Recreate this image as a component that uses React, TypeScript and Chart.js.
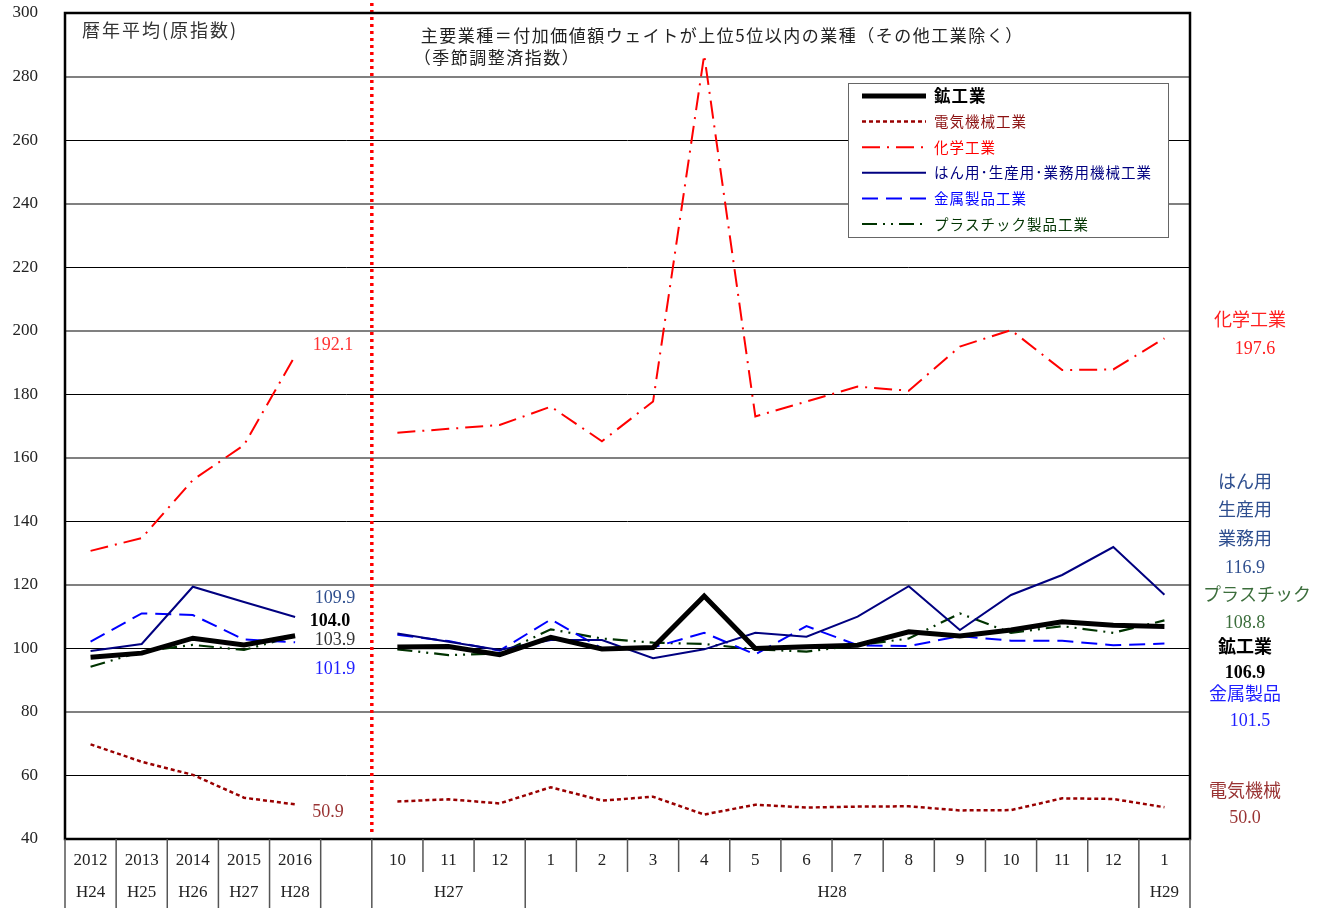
import React, { useEffect, useRef } from 'react';
import { Chart, registerables } from 'chart.js';
Chart.register(...registerables);

// ---- data ----
const categories = ['2012', '2013', '2014', '2015', '2016', '', '10', '11', '12', '1', '2', '3', '4', '5', '6', '7', '8', '9', '10', '11', '12', '1'];
const annualEras = ['H24', 'H25', 'H26', 'H27', 'H28'];
const monthlyEraLabels = ['H27', 'H28', 'H29'];
const monthlyEraSpans = [3, 12, 1];
const yTicksMin = 40;
const yTicksMax = 300;
const yTickStep = 20;

const miningAnnual = [97.2, 98.5, 103.2, 101.1, 104.0];
const miningMonthly = [100.4, 100.6, 98.0, 103.5, 99.8, 100.3, 116.5, 100.0, 100.5, 101.0, 105.2, 103.9, 105.8, 108.4, 107.3, 106.9];
const electricAnnual = [69.8, 64.3, 60.2, 53.0, 50.9];
const electricMonthly = [51.8, 52.5, 51.2, 56.3, 52.1, 53.3, 47.7, 50.8, 49.9, 50.2, 50.3, 49.0, 49.1, 52.8, 52.6, 50.0];
const chemicalAnnual = [130.7, 134.7, 153.0, 164.0, 192.1];
const chemicalMonthly = [167.9, 169.1, 170.3, 176.1, 165.2, 177.7, 286.8, 173.0, 177.7, 182.4, 181.1, 195.0, 200.2, 187.6, 187.8, 197.6];
const machineryAnnual = [99.2, 101.4, 119.4, 114.6, 109.9];
const machineryMonthly = [104.7, 102.1, 99.5, 102.6, 102.6, 96.9, 99.7, 104.9, 103.7, 110.0, 119.6, 105.8, 116.8, 123.1, 131.9, 116.9];
const metalAnnual = [102.1, 111.0, 110.5, 102.8, 101.9];
const metalMonthly = [104.3, 102.3, 99.3, 109.1, 100.0, 100.3, 104.9, 98.1, 107.0, 101.0, 100.7, 103.9, 102.4, 102.4, 101.0, 101.5];
const plasticAnnual = [94.2, 99.0, 101.1, 99.5, 103.9];
const plasticMonthly = [99.7, 97.9, 98.4, 106.0, 103.1, 101.8, 101.4, 99.7, 99.0, 101.0, 103.1, 111.0, 104.9, 107.0, 104.9, 108.8];

const seriesNames = ['鉱工業', '電気機械工業', '化学工業', 'はん用･生産用･業務用機械工業', '金属製品工業', 'プラスチック製品工業'];

const SERIF = '"Liberation Serif", "DejaVu Serif", "Noto Sans CJK JP", serif';
const JP = '"Noto Sans CJK JP", "Noto Sans", sans-serif';

const join = (a: number[], m: number[]) => [...a, null, ...m];

const styles = [
  { color: '#000000', width: 5, dash: [] as number[] },
  { color: '#990000', width: 2.5, dash: [4, 3] },
  { color: '#ff0000', width: 2, dash: [18, 7, 2, 7] },
  { color: '#000080', width: 2, dash: [] as number[] },
  { color: '#0000ff', width: 2, dash: [16, 8] },
  { color: '#003300', width: 2.2, dash: [15, 6, 2, 6, 2, 6] },
];
const legendTextColors = ['#000000', '#8b1010', '#ff0000', '#000080', '#0000ff', '#003300'];

export default function App() {
  const ref = useRef<HTMLCanvasElement>(null);
  useEffect(() => {
    document.body.style.margin = '0';
    const canvas = ref.current!;
    const data = [
      join(miningAnnual, miningMonthly),
      join(electricAnnual, electricMonthly),
      join(chemicalAnnual, chemicalMonthly),
      join(machineryAnnual, machineryMonthly),
      join(metalAnnual, metalMonthly),
      join(plasticAnnual, plasticMonthly),
    ];

    const overlay = {
      id: 'overlay',
      afterDraw(chart: any) {
        const ctx = chart.ctx as any;
        const xs = chart.scales.x;
        const ys = chart.scales.y;
        const { left, right, top, bottom } = chart.chartArea;
        const px = (i: number) => xs.getPixelForValue(i);
        const half = (px(1) - px(0)) / 2;
        const edge = (i: number) => px(0) - half + i * half * 2;
        const yv = (v: number) => ys.getPixelForValue(v);
        ctx.save();

        // red dotted divider
        ctx.strokeStyle = '#ff0000';
        ctx.lineWidth = 3.5;
        ctx.setLineDash([3, 4]);
        ctx.beginPath();
        ctx.moveTo(edge(6), 3);
        ctx.lineTo(edge(6), bottom - 3);
        ctx.stroke();
        ctx.setLineDash([]);

        // frame
        ctx.strokeStyle = '#000';
        ctx.lineWidth = 2.5;
        ctx.strokeRect(left, top, right - left, bottom - top);

        // x-axis table
        const row1 = bottom + 33;
        const H = chart.height;
        const full = [0, 1, 2, 3, 4, 5, 6, 9, 21, 22];
        ctx.strokeStyle = '#555';
        ctx.lineWidth = 1.5;
        for (let i = 0; i <= categories.length; i++) {
          const x = Math.min(edge(i), right);
          ctx.beginPath();
          ctx.moveTo(x, bottom);
          ctx.lineTo(x, full.includes(i) ? H : row1);
          ctx.stroke();
        }
        ctx.fillStyle = '#222';
        ctx.font = '17px ' + SERIF;
        ctx.textAlign = 'center';
        ctx.textBaseline = 'middle';
        categories.forEach((c, i) => ctx.fillText(c, px(i), bottom + 22));
        annualEras.forEach((e, i) => ctx.fillText(e, px(i), bottom + 54));
        let start = 6;
        monthlyEraLabels.forEach((e, k) => {
          const end = start + monthlyEraSpans[k] - 1;
          ctx.fillText(e, (px(start) + px(end)) / 2, bottom + 54);
          start = end + 1;
        });

        // header texts
        ctx.textAlign = 'left';
        ctx.fillStyle = '#333';
        ctx.font = '18px ' + JP;
        ctx.letterSpacing = '2px';
        ctx.fillText('暦年平均(原指数)', left + 17, 30);
        ctx.fillStyle = '#222';
        ctx.font = '17px ' + JP;
        ctx.letterSpacing = '1.5px';
        ctx.fillText('主要業種＝付加価値額ウェイトが上位5位以内の業種（その他工業除く）', edge(6) + 49, 36);
        ctx.fillText('（季節調整済指数）', edge(6) + 42, 58);
        ctx.letterSpacing = '0px';

        // end-of-annual labels
        const x4 = px(4);
        ctx.textAlign = 'center';
        const lab = (t: string, dx: number, v: number, dy: number, color: string, bold = false) => {
          ctx.fillStyle = color;
          ctx.font = (bold ? 'bold ' : '') + '18px ' + SERIF;
          ctx.fillText(t, x4 + dx, yv(v) + dy);
        };
        lab(chemicalAnnual[4].toFixed(1), 38, chemicalAnnual[4], -11, '#ff3333');
        lab(machineryAnnual[4].toFixed(1), 40, machineryAnnual[4], -19, '#2f4f8f');
        lab(miningAnnual[4].toFixed(1), 35, miningAnnual[4], -14, '#000', true);
        lab(plasticAnnual[4].toFixed(1), 40, plasticAnnual[4], 4, '#333');
        lab(metalAnnual[4].toFixed(1), 40, metalAnnual[4], 27, '#2020ff');
        lab(electricAnnual[4].toFixed(1), 33, electricAnnual[4], 8, '#993333');

        // right-side labels
        const rx = right + 55;
        const rl = (t: string, dx: number, y: number, color: string, bold = false) => {
          ctx.fillStyle = color;
          ctx.font = (bold ? 'bold ' : '') + '18px ' + SERIF;
          ctx.fillText(t, rx + dx, y);
        };
        const lastM = (a: number[]) => a[a.length - 1].toFixed(1);
        rl('化学工業', 5, 321, '#ff2020');
        rl(lastM(chemicalMonthly), 10, 349, '#ff2020');
        rl('はん用', 0, 483, '#2f4f8f');
        rl('生産用', 0, 511, '#2f4f8f');
        rl('業務用', 0, 540, '#2f4f8f');
        rl(lastM(machineryMonthly), 0, 568, '#2f4f8f');
        rl('プラスチック', 12, 596, '#3c6e3c');
        rl(lastM(plasticMonthly), 0, 623, '#3c6e3c');
        rl('鉱工業', 0, 648, '#000', true);
        rl(lastM(miningMonthly), 0, 673, '#000', true);
        rl('金属製品', 0, 695, '#2020ff');
        rl(lastM(metalMonthly), 5, 721, '#2020ff');
        rl('電気機械', 0, 792, '#993333');
        rl(lastM(electricMonthly), 0, 818, '#993333');

        // legend
        const lx = 848, ly = 83, lw = 320, lh = 154;
        ctx.fillStyle = '#fff';
        ctx.fillRect(lx, ly, lw, lh);
        ctx.strokeStyle = '#666';
        ctx.lineWidth = 1;
        ctx.strokeRect(lx + 0.5, ly + 0.5, lw, lh);
        ctx.textAlign = 'left';
        seriesNames.forEach((n, i) => {
          const y = ly + 13 + i * 25.6;
          const s = styles[i];
          ctx.strokeStyle = s.color;
          ctx.lineWidth = s.width;
          ctx.setLineDash(s.dash);
          ctx.beginPath();
          ctx.moveTo(862, y);
          ctx.lineTo(926, y);
          ctx.stroke();
          ctx.setLineDash([]);
          ctx.fillStyle = legendTextColors[i];
          ctx.font = (i === 0 ? 'bold 16.5px ' : '14.5px ') + JP;
          ctx.letterSpacing = i === 0 ? '1px' : '1px';
          ctx.fillText(n, 934, y);
        });
        ctx.letterSpacing = '0px';
        ctx.restore();
      },
    };

    const chart = new Chart(canvas, {
      type: 'line',
      data: {
        labels: categories,
        datasets: data.map((d, i) => ({
          label: seriesNames[i],
          data: d,
          borderColor: styles[i].color,
          borderWidth: styles[i].width,
          borderDash: styles[i].dash,
          pointRadius: 0,
          tension: 0,
          spanGaps: false,
          fill: false,
        })),
      },
      options: {
        responsive: false,
        animation: false,
        layout: { padding: { left: 0, top: 13, right: 135, bottom: 0 } },
        plugins: { legend: { display: false }, tooltip: { enabled: false } },
        scales: {
          x: {
            type: 'category',
            offset: true,
            grid: { display: false },
            border: { display: false },
            ticks: { display: false },
            afterFit: (s: any) => { s.height = 69; s.paddingLeft = 0; s.paddingRight = 0; },
          },
          y: {
            min: yTicksMin,
            max: yTicksMax,
            ticks: {
              stepSize: yTickStep,
              padding: 27,
              color: '#222',
              font: { family: SERIF, size: 17 },
            },
            grid: {
              drawTicks: false,
              color: (c: any) => (c.tick && c.tick.value % 40 === 0 ? '#808080' : '#000'),
              lineWidth: (c: any) => (c.tick && c.tick.value % 40 === 0 ? 2 : 1),
            },
            border: { display: false },
            afterFit: (s: any) => { s.width = 65; s.paddingTop = 0; s.paddingBottom = 0; },
          },
        },
      },
      plugins: [overlay],
    });
    return () => chart.destroy();
  }, []);
  return <canvas ref={ref} width={1325} height={908} style={{ display: 'block', width: 1325, height: 908 }} />;
}
